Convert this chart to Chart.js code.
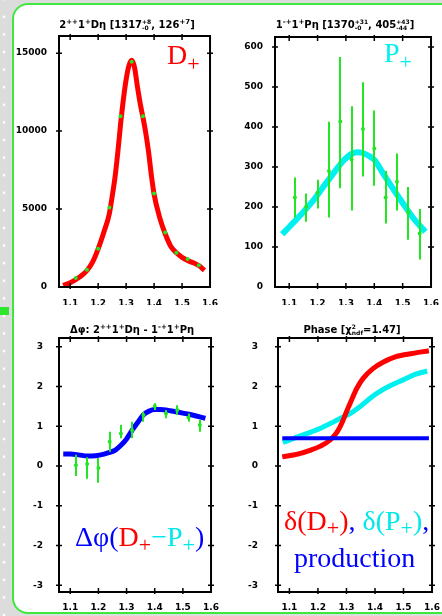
<!DOCTYPE html>
<html><head><meta charset="utf-8">
<script src="https://cdn.jsdelivr.net/npm/chart.js@4.4.0/dist/chart.umd.min.js"></script>
<style>
html,body{margin:0;padding:0;}
body{width:442px;height:616px;position:relative;overflow:hidden;background:#dcdcdc;}
#dots{position:absolute;left:0;top:0;width:10px;height:616px;background-image:radial-gradient(circle,#ffffff 1.1px,transparent 1.7px);background-size:8px 17.6px;background-position:0px 8px;}
#panel{position:absolute;left:12px;top:3px;width:470px;height:607px;background:#fff;border:2px solid #3ee83e;border-radius:16px;}
#arrow{position:absolute;left:0;top:307px;width:9px;height:8px;background:#2ee62e;}
canvas{position:absolute;}
.title{position:absolute;font:bold 10px "DejaVu Sans";line-height:12px;height:12px;white-space:nowrap;color:#000;transform:translateX(-50%);}
.title sup{font-size:7px;vertical-align:0;position:relative;top:-4px;}
.stk{display:inline-block;font-size:6px;line-height:6px;vertical-align:-2px;text-align:left;}
.stk span{display:block;}
.big{position:absolute;font-family:"Liberation Serif";font-size:28px;line-height:28px;white-space:nowrap;}
.big .sb{font-size:22px;position:relative;}
</style></head>
<body>
<div id="dots"></div>
<div id="panel"></div>
<div id="arrow"></div>
<canvas id="c1" width="221" height="305" style="left:0;top:0"></canvas>
<canvas id="c2" width="221" height="305" style="left:221px;top:0"></canvas>
<canvas id="c3" width="221" height="311" style="left:0;top:305px"></canvas>
<canvas id="c4" width="221" height="311" style="left:221px;top:305px"></canvas>

<div class="title" style="left:127px;top:19px">2<sup>++</sup>1<sup>+</sup>Dη [1317<span class="stk"><span>+8</span><span>-0</span></span>, 126<sup>+7</sup>]</div>
<div class="title" style="left:345px;top:19px">1<sup>-+</sup>1<sup>+</sup>Pη [1370<span class="stk"><span>+31</span><span>-0</span></span>, 405<span class="stk"><span>+43</span><span>-44</span></span>]</div>
<div class="title" style="left:132px;top:324px">Δφ: 2<sup>++</sup>1<sup>+</sup>Dη - 1<sup>-+</sup>1<sup>+</sup>Pη</div>
<div class="title" style="left:352px;top:324px">Phase [χ<span class="stk"><span>2</span><span>ndf</span></span>=1.47]</div>

<div class="big" style="left:167px;top:41px;color:#ff0000">D<span class="sb" style="top:7px">+</span></div>
<div class="big" style="left:384px;top:39px;color:#00f0f0">P<span class="sb" style="top:7px">+</span></div>
<div class="big" style="left:75px;top:523px"><span style="color:#0000ff">Δφ(</span><span style="color:#ff0000">D<span class="sb" style="top:6px">+</span></span><span style="color:#00e8e8">−P<span class="sb" style="top:6px">+</span></span><span style="color:#0000ff">)</span></div>
<div class="big" style="left:284px;top:507px"><span style="color:#ff0000">δ(D<span class="sb" style="top:5px">+</span>)</span><span style="color:#0000ff">,</span> <span style="color:#00e8e8">δ(P<span class="sb" style="top:5px">+</span>)</span><span style="color:#0000ff">,</span></div>
<div class="big" style="left:294px;top:544px;color:#0000ff">production</div>

<script>
// ---------------- data ----------------
const xTicks = [1.1, 1.2, 1.3, 1.4, 1.5, 1.6];
const xTickLabels = ['1.1', '1.2', '1.3', '1.4', '1.5', '1.6'];
const massPts = [1.12, 1.16, 1.20, 1.24, 1.28, 1.32, 1.36, 1.40, 1.44, 1.48, 1.52, 1.56];

// D+ intensity (top-left)
const dTicks = [0, 5000, 10000, 15000];
const dTickLabels = ['0', '5000', '10000', '15000'];
const dEvents = [580, 1100, 2450, 5100, 10950, 14450, 10950, 6000, 3500, 2200, 1800, 1400];
const dCurveMass = [1.075, 1.10, 1.12, 1.14, 1.16, 1.18, 1.20, 1.22, 1.24, 1.25, 1.26, 1.27, 1.28, 1.29, 1.30, 1.31, 1.32, 1.33, 1.34, 1.35, 1.36, 1.37, 1.38, 1.39, 1.40, 1.42, 1.44, 1.46, 1.48, 1.50, 1.52, 1.54, 1.56, 1.58];
const dCurveVal  = [100, 280, 480, 720, 1060, 1600, 2450, 3500, 4700, 5800, 7000, 8600, 10400, 12000, 13300, 14200, 14550, 14100, 12900, 11800, 10900, 9900, 8700, 7200, 5950, 4450, 3400, 2600, 2200, 1900, 1700, 1550, 1380, 1060];

// P+ intensity (top-right)
const pTicks = [0, 100, 200, 300, 400, 500, 600];
const pTickLabels = ['0', '100', '200', '300', '400', '500', '600'];
const pEvents = [224, 201, 236, 290, 414, 319, 395, 346, 224, 263, 187, 134];
const pErrHi  = [274, 234, 268, 413, 575, 452, 512, 441, 290, 334, 250, 195];
const pErrLo  = [174, 163, 196, 174, 247, 191, 276, 253, 159, 191, 118, 69];
const pCurveMass = [1.075, 1.10, 1.14, 1.18, 1.22, 1.26, 1.29, 1.32, 1.34, 1.36, 1.38, 1.40, 1.43, 1.46, 1.50, 1.54, 1.58];
const pCurveVal  = [132, 150, 180, 212, 250, 288, 315, 333, 337, 335, 328, 318, 285, 252, 210, 170, 138];

// phase axes (bottom)
const phTicks = [-3, -2, -1, 0, 1, 2, 3];
const phTickLabels = ['-3', '-2', '-1', '0', '1', '2', '3'];

// Δφ (bottom-left)
const dphiVal = [0.02, 0.05, -0.05, 0.61, 0.82, 0.90, 1.28, 1.51, 1.32, 1.41, 1.22, 1.03];
const dphiHi  = [0.28, 0.22, 0.20, 0.86, 1.03, 1.11, 1.36, 1.58, 1.41, 1.53, 1.32, 1.16];
const dphiLo  = [-0.25, -0.32, -0.42, 0.36, 0.70, 0.70, 1.11, 1.41, 1.20, 1.28, 1.11, 0.86];
const dphiCurveMass = [1.075, 1.10, 1.13, 1.16, 1.19, 1.22, 1.24, 1.26, 1.28, 1.30, 1.32, 1.34, 1.36, 1.38, 1.40, 1.42, 1.44, 1.47, 1.50, 1.53, 1.58];
const dphiCurveVal  = [0.30, 0.30, 0.28, 0.25, 0.26, 0.30, 0.34, 0.40, 0.52, 0.68, 0.90, 1.10, 1.29, 1.38, 1.42, 1.42, 1.41, 1.37, 1.33, 1.29, 1.20];

// phases (bottom-right)
const deltaDMass = [1.075, 1.129, 1.175, 1.209, 1.244, 1.267, 1.284, 1.301, 1.319, 1.336, 1.359, 1.393, 1.428, 1.474, 1.531, 1.589];
const deltaDVal  = [0.23, 0.30, 0.40, 0.50, 0.66, 0.85, 1.08, 1.38, 1.68, 1.95, 2.21, 2.45, 2.61, 2.75, 2.83, 2.90];
const deltaPMass = [1.077, 1.117, 1.163, 1.209, 1.255, 1.290, 1.313, 1.347, 1.382, 1.416, 1.451, 1.497, 1.543, 1.583];
const deltaPVal  = [0.59, 0.70, 0.82, 0.95, 1.11, 1.24, 1.32, 1.49, 1.70, 1.87, 2.01, 2.16, 2.31, 2.39];
const prodMass = [1.075, 1.589];
const prodVal  = [0.70, 0.70];

// ---------------- drawing ----------------
const RED = '#ff0000', CYAN = '#00f0f0', BLUE = '#0000ff', GREEN = '#22e622';
const tickFont = {family: 'DejaVu Sans', size: 9, weight: 'bold'};
const pts = (xs, ys) => xs.map((v, i) => ({x: v, y: ys[i]}));
const errMap = {};

const frameTicks = {
  id: 'frameTicks',
  afterDraw(chart) {
    const {ctx, chartArea: a, scales: {x, y}} = chart;
    ctx.save();
    ctx.strokeStyle = '#000';
    ctx.lineWidth = 2;
    ctx.strokeRect(a.left, a.top, a.right - a.left, a.bottom - a.top);
    ctx.lineWidth = 1.5;
    ctx.beginPath();
    x.ticks.forEach(t => {
      const px = x.getPixelForValue(t.value);
      if (px < a.left + 2 || px > a.right - 2) return;
      ctx.moveTo(px, a.top - 2); ctx.lineTo(px, a.top + 4);
      ctx.moveTo(px, a.bottom + 2); ctx.lineTo(px, a.bottom - 4);
    });
    y.ticks.forEach(t => {
      const py = y.getPixelForValue(t.value);
      if (py < a.top + 2 || py > a.bottom - 2) return;
      ctx.moveTo(a.left - 3, py); ctx.lineTo(a.left + 3, py);
      ctx.moveTo(a.right + 3, py); ctx.lineTo(a.right - 3, py);
    });
    ctx.stroke();
    ctx.restore();
  }
};

const errorBars = {
  id: 'errorBars',
  afterDatasetsDraw(chart) {
    const e = errMap[chart.canvas.id];
    if (!e) return;
    const {ctx, scales: {x, y}} = chart;
    ctx.save();
    ctx.strokeStyle = GREEN;
    ctx.lineWidth = 2;
    ctx.beginPath();
    e.x.forEach((m, i) => {
      const px = Math.round(x.getPixelForValue(m));
      ctx.moveTo(px, y.getPixelForValue(e.lo[i]));
      ctx.lineTo(px, y.getPixelForValue(e.hi[i]));
    });
    ctx.stroke();
    ctx.restore();
  }
};

function build(id, o) {
  new Chart(document.getElementById(id), {
    type: 'line',
    data: {datasets: o.datasets},
    options: {
      responsive: false, animation: false, events: [],
      layout: {padding: {left: 0, right: o.padR, top: o.padT, bottom: 0}},
      plugins: {legend: {display: false}, tooltip: {enabled: false}},
      scales: {
        x: {
          type: 'linear', min: o.xmin, max: o.xmax,
          afterBuildTicks: s => { s.ticks = xTicks.map(v => ({value: v})); },
          afterFit: s => { s.height = o.xh; },
          ticks: {callback: (v, i) => xTickLabels[i], autoSkip: false, maxRotation: 0, padding: o.xpad, font: tickFont, color: '#000'},
          grid: {display: false}, border: {display: false}
        },
        y: {
          type: 'linear', min: o.ymin, max: o.ymax,
          afterBuildTicks: s => { s.ticks = o.yTicks.map(v => ({value: v})); },
          afterFit: s => { s.width = o.yw; },
          ticks: {callback: (v, i) => o.yLabels[i], padding: o.ypad, font: tickFont, color: '#000'},
          grid: {display: false}, border: {display: false}
        }
      }
    },
    plugins: [frameTicks, errorBars]
  });
}

const curve = (xs, ys, color, w, order) => ({
  data: pts(xs, ys), borderColor: color, borderWidth: w, pointRadius: 0,
  cubicInterpolationMode: 'monotone', fill: false, order: order
});
const marks = (xs, ys) => ({
  data: pts(xs, ys), showLine: false, pointRadius: 2, pointBackgroundColor: GREEN,
  pointBorderWidth: 0, order: 0
});

build('c1', {
  xmin: 1.06, xmax: 1.6, ymin: 0, ymax: 16100, yTicks: dTicks, yLabels: dTickLabels,
  padR: 7, padT: 36, yw: 59, xh: 18, xpad: 3, ypad: 4,
  datasets: [marks(massPts, dEvents), curve(dCurveMass, dCurveVal, RED, 5, 1)]
});

errMap.c2 = {x: massPts, lo: pErrLo, hi: pErrHi};
build('c2', {
  xmin: 1.05, xmax: 1.6, ymin: 0, ymax: 625, yTicks: pTicks, yLabels: pTickLabels,
  padR: 8, padT: 37, yw: 54, xh: 18, xpad: 3, ypad: 4,
  datasets: [marks(massPts, pEvents), curve(pCurveMass, pCurveVal, CYAN, 6, 1)]
});

errMap.c3 = {x: massPts, lo: dphiLo, hi: dphiHi};
build('c3', {
  xmin: 1.06, xmax: 1.6, ymin: -3.17, ymax: 3.22, yTicks: phTicks, yLabels: phTickLabels,
  padR: 7, padT: 33, yw: 59, xh: 24, xpad: 2, ypad: 8,
  datasets: [marks(massPts, dphiVal), curve(dphiCurveMass, dphiCurveVal, BLUE, 5, 1)]
});

build('c4', {
  xmin: 1.06, xmax: 1.6, ymin: -3.17, ymax: 3.22, yTicks: phTicks, yLabels: phTickLabels,
  padR: 8, padT: 33, yw: 57, xh: 24, xpad: 2, ypad: 12,
  datasets: [
    curve(prodMass, prodVal, BLUE, 4, 0),
    curve(deltaDMass, deltaDVal, RED, 5, 1),
    curve(deltaPMass, deltaPVal, CYAN, 5, 2)
  ]
});
</script>
</body></html>
